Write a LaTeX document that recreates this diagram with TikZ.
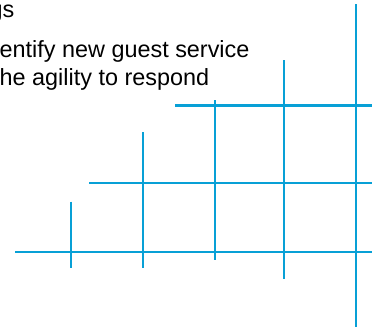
\documentclass[tikz,border=0pt]{standalone}
\usepackage{fontspec}
\setmainfont{Liberation Sans}
\definecolor{gridblue}{RGB}{8,160,214}
\begin{document}
\begin{tikzpicture}[x=1bp,y=-1bp,
  gridline/.style={draw=gridblue,line width=2.2bp},
  bodytext/.style={inner sep=0pt,font=\fontsize{23.4bp}{28bp}\selectfont}]
\useasboundingbox (0,0) rectangle (377,327);
\clip (0,0) rectangle (377,327);
% text
\node[bodytext,anchor=base east] (t1) at (14.5,17) {gs};
\node[bodytext,anchor=base west] (t2) at (-0.5,57) {entify new guest service};
\node[bodytext,anchor=base west] (t3) at (-0.5,85) {he agility to respond};
% horizontal lines
\draw[gridline] (175,105.5) -- (372,105.5);
\draw[gridline] (89,182.7) -- (372,182.7);
\draw[gridline] (15,252.3) -- (372,252.3);
% vertical lines
\draw[gridline] (70.7,201.7) -- (70.7,268);
\draw[gridline] (142.7,132.3) -- (142.7,268);
\draw[gridline] (214.7,100) -- (214.7,260);
\draw[gridline] (284,60) -- (284,278.7);
\draw[gridline] (356.3,4) -- (356.3,327);
\end{tikzpicture}
\end{document}
